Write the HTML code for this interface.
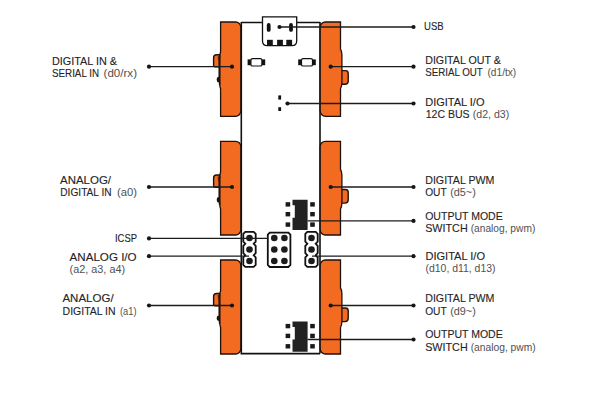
<!DOCTYPE html>
<html><head><meta charset="utf-8"><title>Arduino bit pinout</title>
<style>
html,body{margin:0;padding:0;background:#fff;}
svg{display:block}
text{font-family:"Liberation Sans",sans-serif;font-size:11.6px;fill:#242424;stroke:#242424;stroke-width:0.12px;}
.s{fill:#505050;stroke:none;font-size:11.1px}
</style></head><body>
<svg width="600" height="400" viewBox="0 0 600 400">
<rect width="600" height="400" fill="#fff"/>
<path d="M241.3 22.5 L262.5 22.5 M296.7 22.5 L320 22.5 M241.3 22 L241.3 353.6 L320 353.6 M320 22 L320 353.6" fill="none" stroke="#111" stroke-width="1.6"/>
<path d="M213.6 57.7 Q213.6 54.7 216.6 54.7 L221 54.7 L221 66.9 L215 66.9 Q213.6 66.9 213.6 65.5 Z" fill="#F26B21" stroke="#1d120c" stroke-width="1.4"/>
<path d="M217.6 56.300000000000004 Q217.2 59.7 219.4 62.2 L219.4 56.300000000000004 Z" fill="#7a2e0a"/>
<ellipse cx="218.4" cy="79.5" rx="1.7" ry="2.7" fill="#1d120c"/>
<path d="M220.6 22 L235.6 22 A5.2 5.2 0 0 1 240.8 27.2 L240.8 111.1 A5.2 5.2 0 0 1 235.6 116.3 L220.6 116.3 L220.6 88.7 Q219.2 84.7 219.2 74.7 L219.2 60.7 Q219.4 55.7 220.6 51.7 Z" fill="#F26B21" stroke="#1d120c" stroke-width="1.3"/>
<path d="M219.7 55.2 L219.7 84.7" stroke="#1d120c" stroke-width="1.7" fill="none"/>
<path d="M213.6 178.0 Q213.6 175.0 216.6 175.0 L221 175.0 L221 187.2 L215 187.2 Q213.6 187.2 213.6 185.8 Z" fill="#F26B21" stroke="#1d120c" stroke-width="1.4"/>
<path d="M217.6 176.6 Q217.2 180.0 219.4 182.5 L219.4 176.6 Z" fill="#7a2e0a"/>
<ellipse cx="218.4" cy="199.8" rx="1.7" ry="2.7" fill="#1d120c"/>
<path d="M220.6 141.3 L235.6 141.3 A5.2 5.2 0 0 1 240.8 146.5 L240.8 229.8 A5.2 5.2 0 0 1 235.6 235 L220.6 235 L220.6 209 Q219.2 205 219.2 195 L219.2 181 Q219.4 176.0 220.6 172.0 Z" fill="#F26B21" stroke="#1d120c" stroke-width="1.3"/>
<path d="M219.7 175.5 L219.7 205" stroke="#1d120c" stroke-width="1.7" fill="none"/>
<path d="M213.6 296.5 Q213.6 293.5 216.6 293.5 L221 293.5 L221 305.7 L215 305.7 Q213.6 305.7 213.6 304.3 Z" fill="#F26B21" stroke="#1d120c" stroke-width="1.4"/>
<path d="M217.6 295.1 Q217.2 298.5 219.4 301.0 L219.4 295.1 Z" fill="#7a2e0a"/>
<ellipse cx="218.4" cy="318.3" rx="1.7" ry="2.7" fill="#1d120c"/>
<path d="M220.6 260 L235.6 260 A5.2 5.2 0 0 1 240.8 265.2 L240.8 348.8 A5.2 5.2 0 0 1 235.6 354 L220.6 354 L220.6 327.5 Q219.2 323.5 219.2 313.5 L219.2 299.5 Q219.4 294.5 220.6 290.5 Z" fill="#F26B21" stroke="#1d120c" stroke-width="1.3"/>
<path d="M219.7 294.0 L219.7 323.5" stroke="#1d120c" stroke-width="1.7" fill="none"/>
<path d="M340.5 70.60000000000001 L345.5 70.60000000000001 Q348.2 70.60000000000001 348.2 73.30000000000001 L348.2 81.2 Q348.2 84.2 345 84.2 L340.5 84.2 Z" fill="#F26B21" stroke="#1d120c" stroke-width="1.4"/>
<path d="M325.4 22 L340.5 22 L340.5 49.2 Q341.7 50.7 341.9 54.7 L341.9 82.7 Q341.8 86.7 340.5 88.7 L340.5 116.3 L325.4 116.3 A5.2 5.2 0 0 1 320.2 111.1 L320.2 27.2 A5.2 5.2 0 0 1 325.4 22 Z" fill="#F26B21" stroke="#1d120c" stroke-width="1.3"/>
<path d="M340.5 189.5 L345.5 189.5 Q348.2 189.5 348.2 192.2 L348.2 200.1 Q348.2 203.1 345 203.1 L340.5 203.1 Z" fill="#F26B21" stroke="#1d120c" stroke-width="1.4"/>
<path d="M325.4 141.3 L340.5 141.3 L340.5 169.5 Q341.7 171 341.9 175 L341.9 203 Q341.8 207 340.5 209 L340.5 235 L325.4 235 A5.2 5.2 0 0 1 320.2 229.8 L320.2 146.5 A5.2 5.2 0 0 1 325.4 141.3 Z" fill="#F26B21" stroke="#1d120c" stroke-width="1.3"/>
<path d="M340.5 308.0 L345.5 308.0 Q348.2 308.0 348.2 310.7 L348.2 318.6 Q348.2 321.6 345 321.6 L340.5 321.6 Z" fill="#F26B21" stroke="#1d120c" stroke-width="1.4"/>
<path d="M325.4 260 L340.5 260 L340.5 288.0 Q341.7 289.5 341.9 293.5 L341.9 321.5 Q341.8 325.5 340.5 327.5 L340.5 354 L325.4 354 A5.2 5.2 0 0 1 320.2 348.8 L320.2 265.2 A5.2 5.2 0 0 1 325.4 260 Z" fill="#F26B21" stroke="#1d120c" stroke-width="1.3"/>
<path d="M262.5 16.8 L296.7 16.8 L296.7 41 Q296.7 45.6 292 45.6 L267.2 45.6 Q262.5 45.6 262.5 41 Z" fill="#fff" stroke="#111" stroke-width="1.3"/>
<rect x="266.8" y="23" width="3.8" height="8.8" rx="1.9" fill="#111"/>
<rect x="289.1" y="23" width="3.8" height="8.8" rx="1.9" fill="#111"/>
<rect x="267" y="39.8" width="5.8" height="5.8" fill="#151515"/>
<rect x="277.1" y="39.8" width="5.8" height="5.8" fill="#151515"/>
<rect x="286.3" y="39.8" width="5.8" height="5.8" fill="#151515"/>
<rect x="247.6" y="59.4" width="17.6" height="5.8" fill="#111"/>
<rect x="250.9" y="58.7" width="11" height="7.3" rx="1.6" fill="#fff" stroke="#111" stroke-width="1.2"/>
<rect x="298.2" y="59.4" width="17.6" height="5.8" fill="#111"/>
<rect x="301.5" y="58.7" width="11" height="7.3" rx="1.6" fill="#fff" stroke="#111" stroke-width="1.2"/>
<rect x="278.3" y="95.4" width="2.8" height="4.2" fill="#111"/>
<rect x="278.3" y="107.2" width="2.8" height="3.8" fill="#111"/>
<path d="M292.5 199.8 L307.6 199.8 L307.6 230.10000000000002 L292.5 230.10000000000002 L292.5 217.8 L294.8 217.8 L294.8 205.3 L292.5 205.3 Z" fill="#222"/>
<rect x="285.6" y="202.20000000000002" width="4.6" height="4.4" fill="#1a1a1a"/>
<rect x="310.2" y="202.20000000000002" width="4.6" height="4.4" fill="#1a1a1a"/>
<rect x="285.6" y="212.0" width="4.6" height="4.4" fill="#1a1a1a"/>
<rect x="310.2" y="212.0" width="4.6" height="4.4" fill="#1a1a1a"/>
<rect x="285.6" y="222.4" width="4.6" height="4.4" fill="#1a1a1a"/>
<rect x="310.2" y="222.4" width="4.6" height="4.4" fill="#1a1a1a"/>
<path d="M292.5 321.5 L307.6 321.5 L307.6 351.8 L292.5 351.8 L292.5 339.5 L294.8 339.5 L294.8 327.0 L292.5 327.0 Z" fill="#222"/>
<rect x="285.6" y="323.9" width="4.6" height="4.4" fill="#1a1a1a"/>
<rect x="310.2" y="323.9" width="4.6" height="4.4" fill="#1a1a1a"/>
<rect x="285.6" y="333.7" width="4.6" height="4.4" fill="#1a1a1a"/>
<rect x="310.2" y="333.7" width="4.6" height="4.4" fill="#1a1a1a"/>
<rect x="285.6" y="344.1" width="4.6" height="4.4" fill="#1a1a1a"/>
<rect x="310.2" y="344.1" width="4.6" height="4.4" fill="#1a1a1a"/>
<path d="M245.3 231.9 L253.7 231.9 L255.7 233.9 L255.7 241.6 L253.7 243.75 L255.7 245.9 L255.7 253.1 L253.7 255.25 L255.7 257.4 L255.7 264.9 L253.7 266.9 L245.3 266.9 L243.3 264.9 L243.3 257.4 L245.3 255.25 L243.3 253.1 L243.3 245.9 L245.3 243.75 L243.3 241.6 L243.3 233.9 Z" fill="#fff" stroke="#111" stroke-width="1.8"/>
<circle cx="249.5" cy="238" r="3.3" fill="#1c1c1c"/>
<circle cx="249.5" cy="249.5" r="3.3" fill="#1c1c1c"/>
<circle cx="249.5" cy="261" r="3.3" fill="#1c1c1c"/>
<path d="M307.3 231.9 L315.7 231.9 L317.7 233.9 L317.7 241.6 L315.7 243.75 L317.7 245.9 L317.7 253.1 L315.7 255.25 L317.7 257.4 L317.7 264.9 L315.7 266.9 L307.3 266.9 L305.3 264.9 L305.3 257.4 L307.3 255.25 L305.3 253.1 L305.3 245.9 L307.3 243.75 L305.3 241.6 L305.3 233.9 Z" fill="#fff" stroke="#111" stroke-width="1.8"/>
<circle cx="311.5" cy="238" r="3.3" fill="#1c1c1c"/>
<circle cx="311.5" cy="249.5" r="3.3" fill="#1c1c1c"/>
<circle cx="311.5" cy="261" r="3.3" fill="#1c1c1c"/>
<path d="M269.8 232.6 L288.4 232.6 L290.4 234.6 L290.4 265 L288.4 267 L269.8 267 L267.8 265 L267.8 234.6 Z" fill="#fff" stroke="#111" stroke-width="1.8"/>
<circle cx="274.3" cy="238" r="3.3" fill="#1c1c1c"/>
<circle cx="274.3" cy="249.5" r="3.3" fill="#1c1c1c"/>
<circle cx="274.3" cy="261" r="3.3" fill="#1c1c1c"/>
<circle cx="284.4" cy="238" r="3.3" fill="#1c1c1c"/>
<circle cx="284.4" cy="249.5" r="3.3" fill="#1c1c1c"/>
<circle cx="284.4" cy="261" r="3.3" fill="#1c1c1c"/>
<path d="M149 66.7 L232 66.7" stroke="#1c1c1c" stroke-width="1.3" fill="none"/>
<circle cx="149" cy="66.7" r="2.1" fill="#161616"/>
<circle cx="232" cy="66.7" r="2.1" fill="#161616"/>
<path d="M149 187 L232 187" stroke="#1c1c1c" stroke-width="1.3" fill="none"/>
<circle cx="149" cy="187" r="2.1" fill="#161616"/>
<circle cx="232" cy="187" r="2.1" fill="#161616"/>
<path d="M149 305.5 L232 305.5" stroke="#1c1c1c" stroke-width="1.3" fill="none"/>
<circle cx="149" cy="305.5" r="2.1" fill="#161616"/>
<circle cx="232" cy="305.5" r="2.1" fill="#161616"/>
<path d="M149 238.4 L268 238.4" stroke="#1c1c1c" stroke-width="1.3" fill="none"/>
<circle cx="149" cy="238.4" r="2.1" fill="#161616"/>
<path d="M149 256.2 L249 256.2" stroke="#1c1c1c" stroke-width="1.3" fill="none"/>
<circle cx="149" cy="256.2" r="2.1" fill="#161616"/>
<path d="M279.5 27 L413.5 27" stroke="#1c1c1c" stroke-width="1.3" fill="none"/>
<circle cx="279.5" cy="27" r="2.1" fill="#161616"/>
<circle cx="413.5" cy="27" r="2.1" fill="#161616"/>
<path d="M330.7 66.7 L413.5 66.7" stroke="#1c1c1c" stroke-width="1.3" fill="none"/>
<circle cx="330.7" cy="66.7" r="2.1" fill="#161616"/>
<circle cx="413.5" cy="66.7" r="2.1" fill="#161616"/>
<path d="M287.5 103.5 L413.5 103.5" stroke="#1c1c1c" stroke-width="1.3" fill="none"/>
<circle cx="287.5" cy="103.5" r="2.1" fill="#161616"/>
<circle cx="413.5" cy="103.5" r="2.1" fill="#161616"/>
<path d="M330.7 187 L413.5 187" stroke="#1c1c1c" stroke-width="1.3" fill="none"/>
<circle cx="330.7" cy="187" r="2.1" fill="#161616"/>
<circle cx="413.5" cy="187" r="2.1" fill="#161616"/>
<path d="M307.5 220.9 L413.5 220.9" stroke="#1c1c1c" stroke-width="1.3" fill="none"/>
<circle cx="413.5" cy="220.9" r="2.1" fill="#161616"/>
<path d="M312 256.2 L413.5 256.2" stroke="#1c1c1c" stroke-width="1.3" fill="none"/>
<circle cx="413.5" cy="256.2" r="2.1" fill="#161616"/>
<path d="M330.7 305.5 L413.5 305.5" stroke="#1c1c1c" stroke-width="1.3" fill="none"/>
<circle cx="330.7" cy="305.5" r="2.1" fill="#161616"/>
<circle cx="413.5" cy="305.5" r="2.1" fill="#161616"/>
<path d="M307.5 339.5 L413.5 339.5" stroke="#1c1c1c" stroke-width="1.3" fill="none"/>
<circle cx="413.5" cy="339.5" r="2.1" fill="#161616"/>
<text x="52" y="65" textLength="65" lengthAdjust="spacingAndGlyphs">DIGITAL IN &amp;</text>
<text x="52" y="76.6" textLength="47" lengthAdjust="spacingAndGlyphs">SERIAL IN</text>
<text x="103.6" y="76.6" class="s" textLength="33.4" lengthAdjust="spacingAndGlyphs">(d0/rx)</text>
<text x="60" y="184" textLength="51" lengthAdjust="spacingAndGlyphs">ANALOG/</text>
<text x="60.3" y="196" textLength="51.3" lengthAdjust="spacingAndGlyphs">DIGITAL IN</text>
<text x="117" y="196" class="s" textLength="20" lengthAdjust="spacingAndGlyphs">(a0)</text>
<text x="115" y="242.4" textLength="22" lengthAdjust="spacingAndGlyphs">ICSP</text>
<text x="69.6" y="260.6" textLength="67" lengthAdjust="spacingAndGlyphs">ANALOG I/O</text>
<text x="69.6" y="273" class="s" textLength="55.5" lengthAdjust="spacingAndGlyphs">(a2, a3, a4)</text>
<text x="62.4" y="302.4" textLength="51.2" lengthAdjust="spacingAndGlyphs">ANALOG/</text>
<text x="62.6" y="315" textLength="53" lengthAdjust="spacingAndGlyphs">DIGITAL IN</text>
<text x="120" y="315" class="s" textLength="16.6" lengthAdjust="spacingAndGlyphs">(a1)</text>
<text x="424" y="30.4" textLength="19.6" lengthAdjust="spacingAndGlyphs">USB</text>
<text x="425.2" y="64.1" textLength="75.6" lengthAdjust="spacingAndGlyphs">DIGITAL OUT &amp;</text>
<text x="425.2" y="76" textLength="57.6" lengthAdjust="spacingAndGlyphs">SERIAL OUT</text>
<text x="487.5" y="76" class="s" textLength="28.7" lengthAdjust="spacingAndGlyphs">(d1/tx)</text>
<text x="425.2" y="105.7" textLength="59.3" lengthAdjust="spacingAndGlyphs">DIGITAL I/O</text>
<text x="425.7" y="117.8" textLength="43.8" lengthAdjust="spacingAndGlyphs">12C BUS</text>
<text x="472.8" y="117.8" class="s" textLength="36.4" lengthAdjust="spacingAndGlyphs">(d2, d3)</text>
<text x="425.2" y="184.1" textLength="69.3" lengthAdjust="spacingAndGlyphs">DIGITAL PWM</text>
<text x="425.2" y="196" textLength="21.5" lengthAdjust="spacingAndGlyphs">OUT</text>
<text x="450.2" y="196" class="s" textLength="25.6" lengthAdjust="spacingAndGlyphs">(d5~)</text>
<text x="425.2" y="219.8" textLength="77.5" lengthAdjust="spacingAndGlyphs">OUTPUT MODE</text>
<text x="425.2" y="231.5" textLength="42.5" lengthAdjust="spacingAndGlyphs">SWITCH</text>
<text x="470.7" y="231.5" class="s" textLength="64.6" lengthAdjust="spacingAndGlyphs">(analog, pwm)</text>
<text x="425.5" y="260.1" textLength="59.5" lengthAdjust="spacingAndGlyphs">DIGITAL I/O</text>
<text x="425.5" y="272.4" class="s" textLength="70" lengthAdjust="spacingAndGlyphs">(d10, d11, d13)</text>
<text x="425.2" y="302.4" textLength="69.3" lengthAdjust="spacingAndGlyphs">DIGITAL PWM</text>
<text x="425.2" y="315" textLength="21.5" lengthAdjust="spacingAndGlyphs">OUT</text>
<text x="450.2" y="315" class="s" textLength="25.6" lengthAdjust="spacingAndGlyphs">(d9~)</text>
<text x="425.2" y="338.1" textLength="77.5" lengthAdjust="spacingAndGlyphs">OUTPUT MODE</text>
<text x="425.2" y="351" textLength="42.5" lengthAdjust="spacingAndGlyphs">SWITCH</text>
<text x="470.7" y="351" class="s" textLength="65" lengthAdjust="spacingAndGlyphs">(analog, pwm)</text>
</svg>
</body></html>
